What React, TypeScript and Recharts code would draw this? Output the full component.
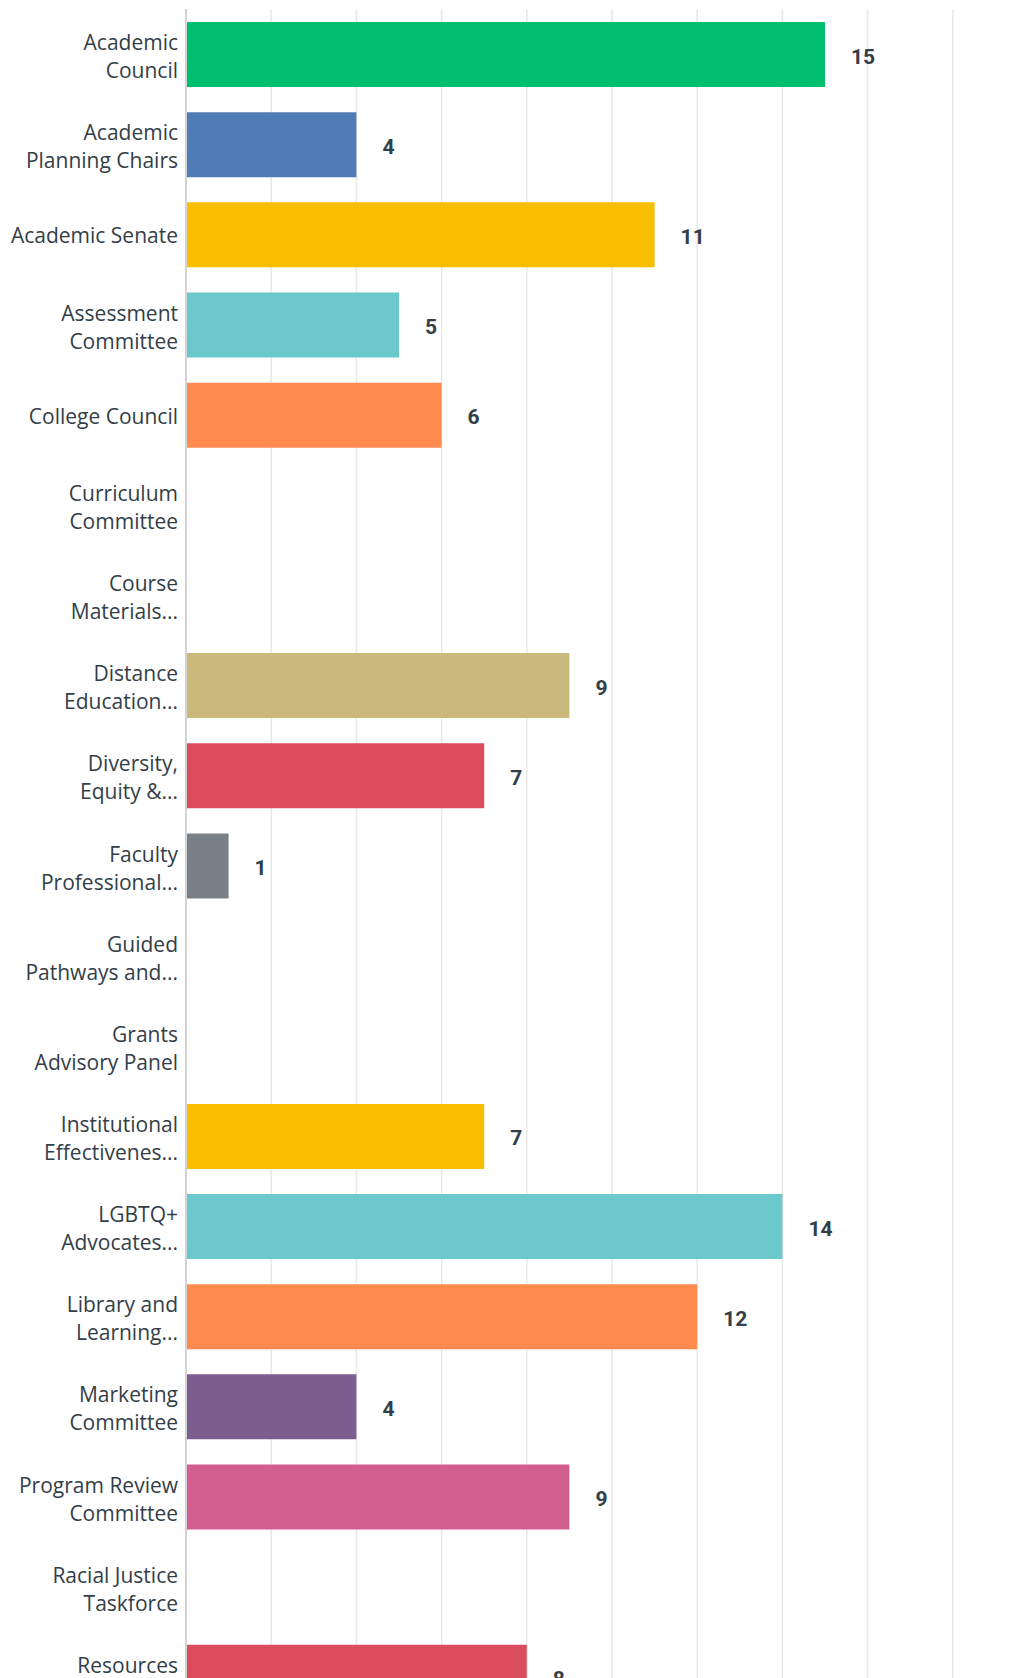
import React from "react";
import { BarChart, Bar, XAxis, YAxis, CartesianGrid, Cell, LabelList } from "recharts";

const committees = [
  "Academic\nCouncil",
  "Academic\nPlanning Chairs",
  "Academic Senate",
  "Assessment\nCommittee",
  "College Council",
  "Curriculum\nCommittee",
  "Course\nMaterials...",
  "Distance\nEducation...",
  "Diversity,\nEquity &...",
  "Faculty\nProfessional...",
  "Guided\nPathways and...",
  "Grants\nAdvisory Panel",
  "Institutional\nEffectivenes...",
  "LGBTQ+\nAdvocates...",
  "Library and\nLearning...",
  "Marketing\nCommittee",
  "Program Review\nCommittee",
  "Racial Justice\nTaskforce",
  "Resources\nCommittee",
];

const responses = [15, 4, 11, 5, 6, 0, 0, 9, 7, 1, 0, 0, 7, 14, 12, 4, 9, 0, 8];

const xTicks = [0, 2, 4, 6, 8, 10, 12, 14, 16, 18, 20];

// palette cycles every 10 categories
const COLORS = [
  "#00BF6F", // green
  "#507CB6", // blue
  "#F9BE00", // yellow
  "#6BC8CD", // teal
  "#FF8B4F", // orange
  "#7D5C8F", // purple
  "#D25F90", // pink
  "#C9B97A", // tan
  "#DB4D5C", // red
  "#7A8088", // gray
];

const TEXT = "#333E48";

const data = committees.map((name, i) => ({ name, value: responses[i] }));

function CommitteeTick({ x, y, payload }: any) {
  const lines: string[] = String(payload.value).split("\n");
  const offsets = lines.length === 1 ? [1] : [-12, 16];
  return (
    <g>
      {lines.map((line, i) => (
        <text
          key={i}
          x={x}
          y={y + offsets[i]}
          textAnchor="end"
          dominantBaseline="central"
          fill={TEXT}
          fontSize={21}
          fontFamily="'Open Sans', sans-serif"
        >
          {line}
        </text>
      ))}
    </g>
  );
}

function ValueLabel({ x, y, width, height, value }: any) {
  if (!value) return null;
  return (
    <text
      x={x + width + 26}
      y={y + height / 2 + 2}
      dominantBaseline="central"
      fill={TEXT}
      fontSize={21}
      fontWeight={700}
      fontFamily="Roboto, sans-serif"
    >
      {value}
    </text>
  );
}

// x axis is only kept for the vertical gridlines, its labels are not shown
const NoTick = () => <g />;

export default function App() {
  return (
    <div
      style={{
        width: 1032,
        height: 1678,
        margin: "-8px 0 0 -8px",
        overflow: "hidden",
        background: "#fff",
      }}
    >
      <BarChart
        width={1060}
        height={1752}
        data={data}
        layout="vertical"
        margin={{ top: 9, right: 22, bottom: 0, left: 0 }}
      >
        <CartesianGrid
          horizontal={false}
          vertical={true}
          stroke="#E8E8E8"
          strokeWidth={1.5}
        />
        <XAxis
          type="number"
          domain={[0, 20]}
          ticks={xTicks}
          axisLine={false}
          tickLine={false}
          tick={<NoTick />}
          height={30}
        />
        <YAxis
          type="category"
          dataKey="name"
          width={186}
          axisLine={{ stroke: "#D3D3D3", strokeWidth: 2 }}
          tickLine={false}
          tickSize={0}
          tickMargin={8}
          interval={0}
          tick={<CommitteeTick />}
        />
        <Bar dataKey="value" barSize={65} isAnimationActive={false}>
          {data.map((entry, index) => (
            <Cell key={`cell-${index}`} fill={COLORS[index % COLORS.length]} />
          ))}
          <LabelList dataKey="value" content={<ValueLabel />} />
        </Bar>
      </BarChart>
    </div>
  );
}
